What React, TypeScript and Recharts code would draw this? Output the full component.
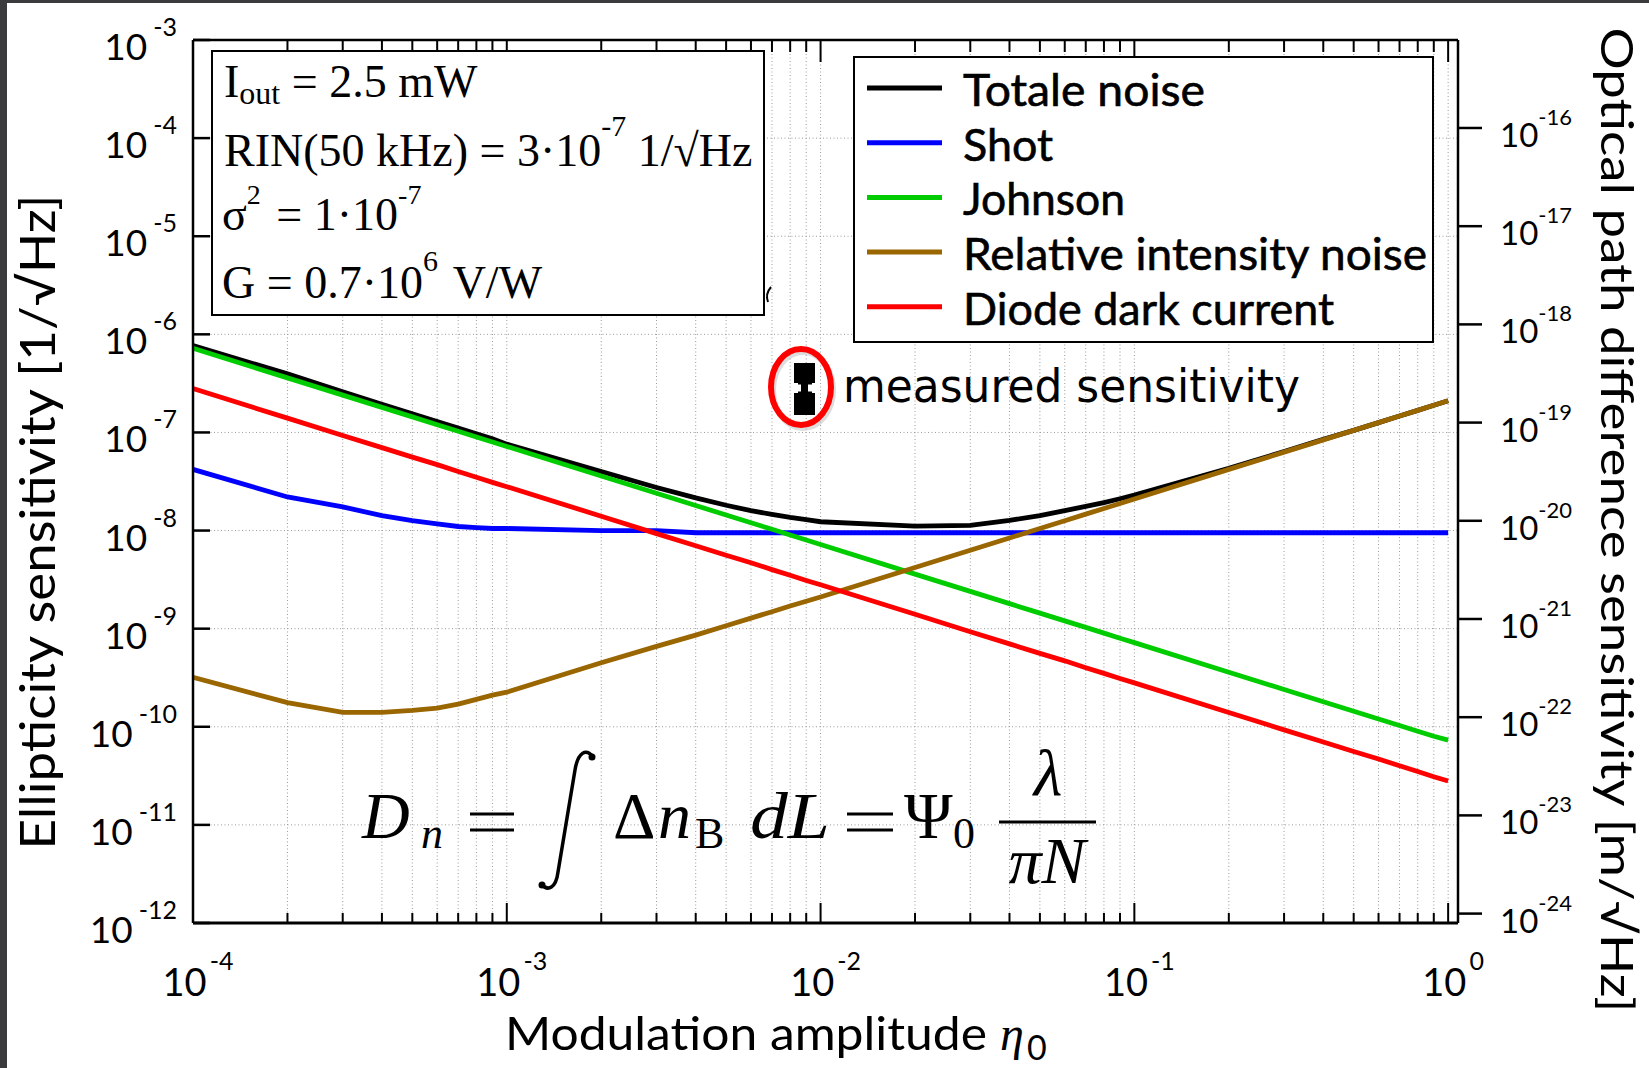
import React from 'react';
import { LineChart, Line, XAxis, YAxis, CartesianGrid, Legend } from 'recharts';

// modulation amplitude eta_0, 1..9 per decade
const eta = [
  1e-4, 2e-4, 3e-4, 4e-4, 5e-4, 6e-4, 7e-4, 8e-4, 9e-4,
  1e-3, 2e-3, 3e-3, 4e-3, 5e-3, 6e-3, 7e-3, 8e-3, 9e-3,
  1e-2, 2e-2, 3e-2, 4e-2, 5e-2, 6e-2, 7e-2, 8e-2, 9e-2,
  0.1, 0.2, 0.3, 0.4, 0.5, 0.6, 0.7, 0.8, 0.9,
  1,
];

const totalNoise = [
  7.7e-7, 3.95e-7, 2.6e-7, 1.94e-7, 1.55e-7, 1.29e-7, 1.11e-7, 9.7e-8, 8.6e-8,
  7.6e-8, 4.0e-8, 2.75e-8, 2.15e-8, 1.81e-8, 1.6e-8, 1.46e-8, 1.36e-8, 1.29e-8,
  1.23e-8, 1.11e-8, 1.13e-8, 1.27e-8, 1.42e-8, 1.6e-8, 1.76e-8, 1.93e-8, 2.11e-8,
  2.3e-8, 4.3e-8, 6.4e-8, 8.5e-8, 1.05e-7, 1.26e-7, 1.47e-7, 1.68e-7, 1.89e-7,
  2.1e-7,
];

const shotNoise = [
  4.2e-8, 2.2e-8, 1.74e-8, 1.42e-8, 1.26e-8, 1.17e-8, 1.1e-8, 1.07e-8, 1.05e-8,
  1.05e-8, 1.0e-8, 1.0e-8, 9.5e-9, 9.5e-9, 9.5e-9, 9.5e-9, 9.5e-9, 9.5e-9,
  9.5e-9, 9.5e-9, 9.5e-9, 9.5e-9, 9.5e-9, 9.5e-9, 9.5e-9, 9.5e-9, 9.5e-9,
  9.5e-9, 9.5e-9, 9.5e-9, 9.5e-9, 9.5e-9, 9.5e-9, 9.5e-9, 9.5e-9, 9.5e-9,
  9.5e-9,
];

const johnsonNoise = [
  7.2e-7, 3.6e-7, 2.4e-7, 1.8e-7, 1.44e-7, 1.2e-7, 1.03e-7, 9e-8, 8e-8,
  7.2e-8, 3.6e-8, 2.4e-8, 1.8e-8, 1.44e-8, 1.2e-8, 1.03e-8, 9e-9, 8e-9,
  7.2e-9, 3.6e-9, 2.4e-9, 1.8e-9, 1.44e-9, 1.2e-9, 1.03e-9, 9e-10, 8e-10,
  7.2e-10, 3.6e-10, 2.4e-10, 1.8e-10, 1.44e-10, 1.2e-10, 1.03e-10, 9e-11, 8e-11,
  7.3e-11,
];

const rinNoise = [
  3.2e-10, 1.76e-10, 1.4e-10, 1.4e-10, 1.47e-10, 1.55e-10, 1.7e-10, 1.9e-10, 2.1e-10,
  2.25e-10, 4.5e-10, 6.6e-10, 8.6e-10, 1.07e-9, 1.28e-9, 1.49e-9, 1.7e-9, 1.9e-9,
  2.1e-9, 4.2e-9, 6.3e-9, 8.4e-9, 1.05e-8, 1.26e-8, 1.47e-8, 1.68e-8, 1.89e-8,
  2.1e-8, 4.2e-8, 6.3e-8, 8.4e-8, 1.05e-7, 1.26e-7, 1.47e-7, 1.68e-7, 1.89e-7,
  2.1e-7,
];

const darkNoise = [
  2.8e-7, 1.4e-7, 9.3e-8, 7e-8, 5.6e-8, 4.7e-8, 4e-8, 3.5e-8, 3.1e-8,
  2.8e-8, 1.4e-8, 9.3e-9, 7e-9, 5.6e-9, 4.7e-9, 4e-9, 3.5e-9, 3.1e-9,
  2.8e-9, 1.4e-9, 9.3e-10, 7e-10, 5.6e-10, 4.7e-10, 4e-10, 3.5e-10, 3.1e-10,
  2.8e-10, 1.4e-10, 9.3e-11, 7e-11, 5.6e-11, 4.7e-11, 4e-11, 3.5e-11, 3.1e-11,
  2.8e-11,
];

const xTicks = eta;
const leftTicks = [1e-12, 1e-11, 1e-10, 1e-9, 1e-8, 1e-7, 1e-6, 1e-5, 1e-4, 1e-3];
const rightTicks = [1e-24, 1e-23, 1e-22, 1e-21, 1e-20, 1e-19, 1e-18, 1e-17, 1e-16];

const series = [
  { key: 'total', name: 'Totale noise', color: '#000000', len: 242 },
  { key: 'shot', name: 'Shot', color: '#0000ff', len: 90 },
  { key: 'johnson', name: 'Johnson', color: '#00cc00', len: 162 },
  { key: 'rin', name: 'Relative intensity noise', color: '#9a6600', len: 464 },
  { key: 'dark', name: 'Diode dark current', color: '#ff0000', len: 371 },
];

const rows = eta.map((x, i) => ({
  x,
  total: totalNoise[i],
  shot: shotNoise[i],
  johnson: johnsonNoise[i],
  rin: rinNoise[i],
  dark: darkNoise[i],
}));

const SANS = 'Lato, "Noto Sans", sans-serif';
const SERIF = '"Liberation Serif", "DejaVu Serif", serif';

const isDecade = (v: number) => Math.abs(Math.log10(v) - Math.round(Math.log10(v))) < 1e-6;
const expOf = (v: number) => String(Math.round(Math.log10(v)));

const BottomTick = (p: any) => {
  const { x, y, payload } = p;
  const major = isDecade(payload.value);
  return (
    <g>
      <line x1={x} x2={x} y1={y} y2={y - (major ? 20 : 10)} stroke="#000" strokeWidth={2} />
      {major && (
        <text x={x + 5} y={y + 73} textAnchor="middle" fontFamily={SANS} fontSize={38} fill="#000">
          10<tspan dy={-26} dx={3} fontSize={25}>{expOf(payload.value)}</tspan>
        </text>
      )}
    </g>
  );
};

const TopTick = (p: any) => {
  const { x, y, payload } = p;
  const major = isDecade(payload.value);
  return <line x1={x} x2={x} y1={y} y2={y + (major ? 22 : 12)} stroke="#000" strokeWidth={2} />;
};

const LeftTick = (p: any) => {
  const { x, y, payload } = p;
  return (
    <g>
      <line x1={x} x2={x + 17} y1={y} y2={y} stroke="#000" strokeWidth={2.5} />
      <text x={x - 16} y={y + 20} textAnchor="end" fontFamily={SANS} fontSize={37} fill="#000">
        10<tspan dy={-24} dx={6} fontSize={25}>{expOf(payload.value)}</tspan>
      </text>
    </g>
  );
};

const RightTick = (p: any) => {
  const { x, y, payload } = p;
  return (
    <g>
      <line x1={x} x2={x + 24} y1={y} y2={y} stroke="#000" strokeWidth={2.5} />
      <text x={x + 42} y={y + 19} textAnchor="start" fontFamily={SANS} fontSize={33} fill="#000">
        10<tspan dy={-22} fontSize={22}>{expOf(payload.value)}</tspan>
      </text>
    </g>
  );
};

const LegendBox = () => (
  <svg width={582} height={288} style={{ display: 'block' }}>
    <rect x={1} y={1} width={579} height={285} fill="#fff" stroke="#000" strokeWidth={2} />
    {series.map((s, i) => (
      <g key={s.key}>
        <line x1={14} x2={89} y1={32 + i * 54.7} y2={32 + i * 54.7} stroke={s.color} strokeWidth={5} />
        <text
          x={110}
          y={50 + i * 54.7}
          fontFamily={SANS}
          fontSize={45}
          fill="#000"
          stroke="#000"
          strokeWidth={0.6}
          textLength={s.len}
          lengthAdjust="spacingAndGlyphs"
        >
          {s.name}
        </text>
      </g>
    ))}
  </svg>
);

const Overlay = () => (
  <svg width={1649} height={1068} style={{ position: 'absolute', left: 0, top: 0, pointerEvents: 'none' }}>
    {/* parameter box */}
    <rect x={212} y={51} width={552} height={264} fill="#fff" stroke="#000" strokeWidth={2} />
    <g fontFamily={SERIF} fontSize={46} fill="#000">
      <text x={224} y={97}>
        I<tspan fontSize={32} dy={7}>out</tspan>
        <tspan dy={-7}> = 2.5 mW</tspan>
      </text>
      <text x={224} y={166}>
        RIN(50 kHz) = 3·10<tspan fontSize={30} dy={-30}>-7</tspan>
        <tspan dy={30}> 1/√Hz</tspan>
      </text>
      <text x={222} y={230}>
        σ<tspan fontSize={28} dy={-26}>2</tspan>
        <tspan dy={26} dx={4}> = 1·10</tspan>
        <tspan fontSize={28} dy={-26}>-7</tspan>
      </text>
      <text x={222} y={298}>
        G = 0.7·10<tspan fontSize={30} dy={-27}>6</tspan>
        <tspan dy={27} dx={4}> V/W</tspan>
      </text>
    </g>
    <path d="M771 287 Q765 294 768 302" fill="none" stroke="#000" strokeWidth={2} />

    {/* measured sensitivity marker */}
    <ellipse cx={803} cy={390} rx={30} ry={38} fill="none" stroke="#bbb" strokeWidth={6} opacity={0.5} />
    <ellipse cx={801} cy={387} rx={30} ry={38} fill="none" stroke="#ff0000" strokeWidth={6} />
    <rect x={794} y={363} width={21} height={20} fill="#000" />
    <rect x={801} y={383} width={7} height={10} fill="#000" />
    <rect x={798} y={382} width={14} height={2.5} fill="#000" />
    <rect x={798} y={391.5} width={14} height={2.5} fill="#000" />
    <rect x={794} y={393} width={21} height={22} fill="#000" />
    <text
      x={843}
      y={402}
      fontFamily='"DejaVu Sans", sans-serif'
      fontSize={46}
      fill="#000"
      textLength={457}
      lengthAdjust="spacingAndGlyphs"
    >
      measured sensitivity
    </text>

    {/* formula */}
    <g fontFamily={SERIF} fill="#000">
      <text x={362} y={838} fontSize={66} fontStyle="italic">D</text>
      <text x={421} y={848} fontSize={44} fontStyle="italic">n</text>
      <line x1={470} x2={514} y1={814} y2={814} stroke="#000" strokeWidth={3} />
      <line x1={470} x2={514} y1={830} y2={830} stroke="#000" strokeWidth={3} />
      <path
        d="M541 884 C548 892 556 888 558 872 L575 770 C578 752 586 748 593 757"
        fill="none"
        stroke="#000"
        strokeWidth={3.5}
        strokeLinecap="round"
      />
      <circle cx={542} cy={885} r={3.5} />
      <circle cx={592} cy={757} r={3.5} />
      <text x={613} y={838} fontSize={66}>Δ</text>
      <text x={658} y={838} fontSize={66} fontStyle="italic">n</text>
      <text x={695} y={848} fontSize={44}>B</text>
      <text x={750} y={838} fontSize={66} fontStyle="italic" textLength={80} lengthAdjust="spacingAndGlyphs">dL</text>
      <line x1={847} x2={893} y1={814} y2={814} stroke="#000" strokeWidth={3} />
      <line x1={847} x2={893} y1={830} y2={830} stroke="#000" strokeWidth={3} />
      <text x={904} y={838} fontSize={66}>Ψ</text>
      <text x={953} y={848} fontSize={44}>0</text>
      <line x1={999} x2={1096} y1={822} y2={822} stroke="#000" strokeWidth={3} />
      <text x={1048} y={795} fontSize={66} fontStyle="italic" textAnchor="middle">λ</text>
      <text x={1047} y={883} fontSize={66} fontStyle="italic" textAnchor="middle">πN</text>
    </g>

    {/* axis titles */}
    <text
      transform="translate(55,522) rotate(-90)"
      textAnchor="middle"
      fontFamily={SANS}
      fontSize={48}
      fill="#000"
      textLength={655}
      lengthAdjust="spacingAndGlyphs"
    >
      Ellipticity sensitivity [1/√Hz]
    </text>
    <text
      transform="translate(1601,520) rotate(90)"
      textAnchor="middle"
      fontFamily={SANS}
      fontSize={45}
      fill="#000"
      textLength={985}
      lengthAdjust="spacingAndGlyphs"
    >
      Optical path difference sensitivity [m/√Hz]
    </text>
    <text x={505} y={1050} fontFamily={SANS} fontSize={47} fill="#000" textLength={482} lengthAdjust="spacingAndGlyphs">
      Modulation amplitude
    </text>
    <text x={1000} y={1050} fontFamily={SERIF} fontStyle="italic" fontSize={48} fill="#000">η</text>
    <text x={1027} y={1060} fontFamily={SANS} fontSize={34} fill="#000">0</text>
  </svg>
);

export default function App() {
  return (
    <div style={{ position: 'absolute', left: 0, top: 0, width: 1649, height: 1068, background: '#3b3b3d' }}>
      <div style={{ position: 'absolute', left: 7, top: 3, width: 1642, height: 1065, background: '#fff' }} />
      <div style={{ position: 'absolute', left: 0, top: 0 }}>
        <LineChart width={1649} height={1068} data={rows} margin={{ top: 0, right: 0, bottom: 0, left: 0 }}>
          <CartesianGrid stroke="#9a9a9a" strokeDasharray="1 2.5" strokeWidth={1} />
          <XAxis
            dataKey="x"
            type="number"
            scale="log"
            domain={[1e-4, 1.075]}
            allowDataOverflow
            ticks={xTicks}
            interval={0}
            height={145}
            tickSize={0}
            tickMargin={0}
            tickLine={false}
            tick={BottomTick}
            axisLine={{ stroke: '#000', strokeWidth: 3 }}
          />
          <XAxis
            xAxisId="top"
            orientation="top"
            dataKey="x"
            type="number"
            scale="log"
            domain={[1e-4, 1.075]}
            allowDataOverflow
            ticks={xTicks}
            interval={0}
            height={40}
            tickSize={0}
            tickMargin={0}
            tickLine={false}
            tick={TopTick}
            axisLine={{ stroke: '#000', strokeWidth: 2.5 }}
          />
          <YAxis
            type="number"
            scale="log"
            domain={[1e-12, 1e-3]}
            allowDataOverflow
            ticks={leftTicks}
            interval={0}
            width={193}
            tickSize={0}
            tickMargin={0}
            tickLine={false}
            tick={LeftTick}
            axisLine={{ stroke: '#000', strokeWidth: 2.5 }}
          />
          <YAxis
            yAxisId="right"
            orientation="right"
            type="number"
            scale="log"
            domain={[8.02e-25, 7.87e-16]}
            allowDataOverflow
            ticks={rightTicks}
            interval={0}
            width={191}
            tickSize={0}
            tickMargin={0}
            tickLine={false}
            tick={RightTick}
            axisLine={{ stroke: '#000', strokeWidth: 2.5 }}
          />
          {series.map((s) => (
            <Line
              key={s.key}
              type="linear"
              dataKey={s.key}
              name={s.name}
              stroke={s.color}
              strokeWidth={4.8}
              dot={false}
              activeDot={false}
              isAnimationActive={false}
            />
          ))}
          <Legend
            layout="vertical"
            align="center"
            verticalAlign="middle"
            content={() => <LegendBox />}
            wrapperStyle={{ left: 853, top: 56, width: 582, height: 288 }}
          />
        </LineChart>
      </div>
      <Overlay />
    </div>
  );
}
